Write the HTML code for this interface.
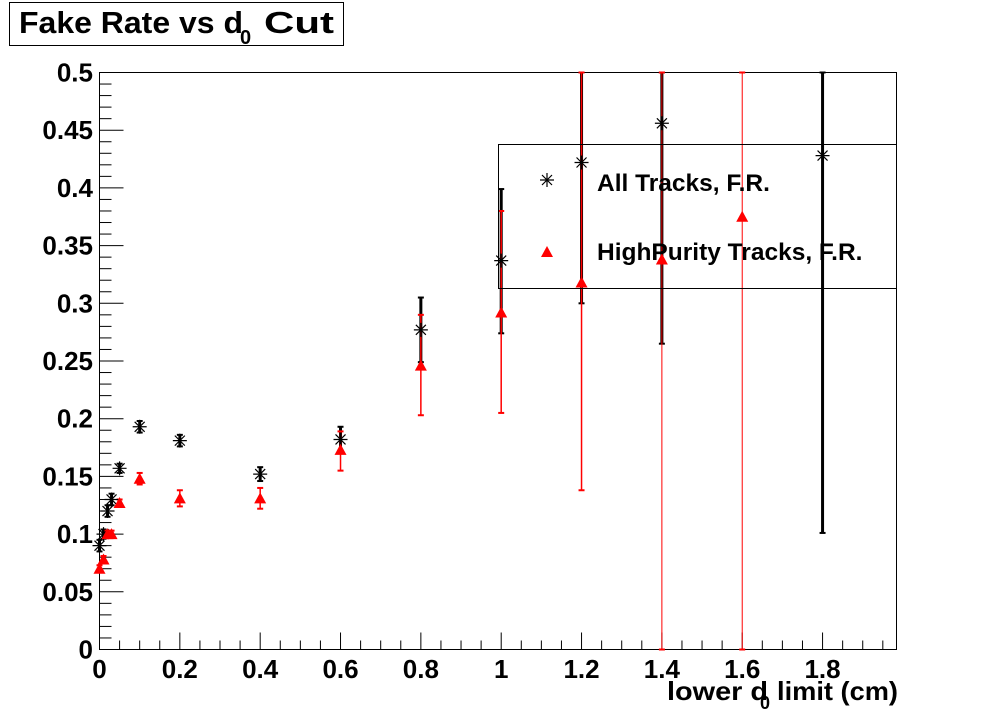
<!DOCTYPE html>
<html><head><meta charset="utf-8"><style>
html,body{margin:0;padding:0;background:#fff;}
svg{display:block;font-family:"Liberation Sans",Arial,sans-serif;font-weight:bold;}
</style></head><body>
<svg id="s" width="996" height="722" xmlns="http://www.w3.org/2000/svg">
<rect x="9.5" y="2.5" width="334" height="43" fill="#fff" stroke="#000" stroke-width="1"/>
<text x="19" y="33" font-size="31" textLength="224" lengthAdjust="spacingAndGlyphs">Fake Rate vs d</text>
<text x="240" y="44" font-size="20">0</text>
<text x="264" y="33" font-size="31" textLength="70" lengthAdjust="spacingAndGlyphs">Cut</text>
<rect x="99.5" y="72.5" width="797" height="577" fill="none" stroke="#000" stroke-width="1"/>
<g id="g"></g>
<rect x="498.5" y="144.5" width="398" height="144" fill="none" stroke="#000" stroke-width="1"/>
<text x="597" y="191" font-size="24.5">All Tracks, F.R.</text>
<text x="597" y="260" font-size="24.5">HighPurity Tracks, F.R.</text>
<text x="667" y="700" font-size="26" textLength="101" lengthAdjust="spacingAndGlyphs">lower d</text>
<text x="760" y="709" font-size="18">0</text>
<text x="777" y="700" font-size="26" textLength="121" lengthAdjust="spacingAndGlyphs">limit (cm)</text>
</svg>
<script>
var g=document.getElementById('g'),h='';
function X(v){return 99.5+401.7*v;}function Y(v){return 649.5-1154*v;}
for(var i=0;i<=50;i++){var v=i/100,y=Y(v),L=(i%5==0)?24:12;h+='<line x1="99.5" x2="'+(99.5+L)+'" y1="'+y+'" y2="'+y+'" stroke="#000"/>';}
for(var i=0;i<=10;i++){var v=i*0.05;var t=(i==0?'0':(+v.toFixed(2)).toString());h+='<text x="93" y="'+(Y(v)+9)+'" font-size="26" text-anchor="end">'+t+'</text>';}
for(var i=0;i<=39;i++){var v=i*0.05,x=X(v),L=(i%4==0)?17:9;h+='<line x1="'+x+'" x2="'+x+'" y1="649.5" y2="'+(649.5-L)+'" stroke="#000"/>';}
for(var i=0;i<=9;i++){var v=i*0.2;var t=(i==0?'0':(+v.toFixed(1)).toString());h+='<text x="'+X(v)+'" y="678" font-size="26" text-anchor="middle">'+t+'</text>';}
var blk=[[0,.09,.005,.005],[.01,.1,.004,.004],[.02,.12,.005,.005],[.03,.13,.005,.005],[.05,.157,.004,.004],[.1,.193,.005,.005],[.2,.181,.005,.005],[.4,.152,.006,.006],[.6,.182,.011,.011],[.8,.277,.028,.028],[1,.337,.062,.063],[1.2,.422,.078,.122],[1.4,.456,.044,.191],[1.8,.428,.072,.327]];
var red=[[0,.07,.003,.003],[.01,.078,.003,.003],[.02,.1,.003,.003],[.03,.1,.003,.003],[.05,.127,.003,.003],[.1,.148,.005,.005],[.2,.131,.007,.007],[.4,.131,.009,.009],[.6,.173,.016,.018],[.8,.246,.044,.043],[1,.292,.088,.087],[1.2,.318,.182,.18],[1.4,.338,.162,.338],[1.6,.375,.125,.375]];
function bar(d,c,w){var x=X(d[0]),y1=Y(Math.min(d[1]+d[2],.5)),y2=Y(d[1]-d[3]);h+='<line x1="'+x+'" x2="'+x+'" y1="'+y1+'" y2="'+y2+'" stroke="'+c+'" stroke-width="'+w+'"/>';h+='<line x1="'+(x-3)+'" x2="'+(x+3)+'" y1="'+y1+'" y2="'+y1+'" stroke="'+c+'" stroke-width="2"/><line x1="'+(x-3)+'" x2="'+(x+3)+'" y1="'+y2+'" y2="'+y2+'" stroke="'+c+'" stroke-width="2"/>';}
function star(x,y){h+='<path d="M'+(x-7)+' '+y+'h14M'+x+' '+(y-7)+'v14M'+(x-5)+' '+(y-5)+'l10 10M'+(x+5)+' '+(y-5)+'l-10 10" stroke="#000" stroke-width="1.2" fill="none"/>';}
function tri(x,y){h+='<polygon points="'+(x-6)+','+(y+5)+' '+(x+6)+','+(y+5)+' '+x+','+(y-6)+'" fill="#f00"/>';}
blk.forEach(function(d){bar(d,'#000',3);});
red.forEach(function(d){bar(d,'#f00',(d[0]==1.4||d[0]==1.6)?1:1.5);});
blk.forEach(function(d){star(X(d[0]),Y(d[1]));});
red.forEach(function(d){tri(X(d[0]),Y(d[1]));});
star(547,180);tri(547,252);
g.innerHTML=h;
</script>
</body></html>
